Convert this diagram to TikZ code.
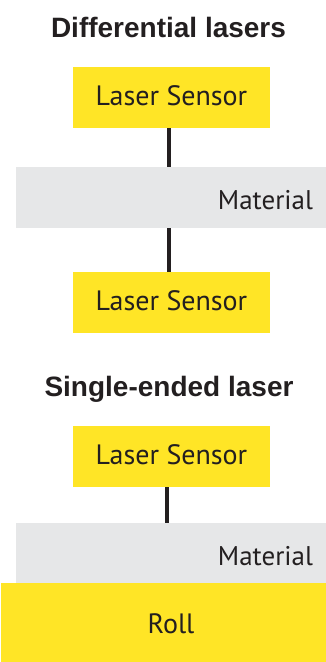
\documentclass[tikz,border=0pt]{standalone}
\usepackage{fontspec}
\setmainfont{Liberation Sans}
\newfontfamily\boxfont{PT Sans}
\definecolor{sensoryellow}{RGB}{255,229,38}
\definecolor{materialgray}{RGB}{230,231,232}
\definecolor{ink}{RGB}{35,31,32}

\begin{document}
\begin{tikzpicture}[x=1pt,y=-1pt,
  title/.style={font=\bfseries\fontsize{28}{32}\selectfont,text=ink,anchor=base,inner sep=0},
  sensor/.style={fill=sensoryellow,minimum width=197pt,minimum height=61pt,inner sep=0,
    text height=15pt,text depth=0pt,text=ink,font=\boxfont\fontsize{28}{32}\selectfont},
  material/.style={fill=materialgray,minimum width=310pt,minimum height=61pt,inner sep=0,
    text width=284pt,align=right,text height=24pt,text depth=0pt,
    text=ink,font=\boxfont\fontsize{27}{32}\selectfont},
  roll/.style={fill=sensoryellow,minimum width=325pt,minimum height=79pt,inner sep=0},
  link/.style={draw=ink,line width=4pt}]
\useasboundingbox (0,0) rectangle (326,662);

% differential pair: sensor above and below the web
\node[title] (difftitle) at (168.5,37) {Differential lasers};
\node[sensor] (topsensor) at (171.5,97.5) {Laser Sensor};
\node[material] (diffweb) at (171,197.5) {Material};
\node[sensor] (botsensor) at (171.5,302.5) {Laser Sensor};
\draw[link] ([xshift=-3pt]topsensor.south) -- ([xshift=-3pt]topsensor.south |- diffweb.north);
\draw[link] ([xshift=-3pt]botsensor.north |- diffweb.south) -- ([xshift=-3pt]botsensor.north);

% single sensor, web lying on the roll
\node[title] (singletitle) at (169,396) {Single-ended laser};
\node[sensor] (onesensor) at (171.5,456.5) {Laser Sensor};
\node[material,minimum height=60pt] (rollweb) at (171,553) {Material};
\node[roll,label={[xshift=7.5pt,text height=21pt,text depth=0pt,inner sep=0,text=ink,
  font=\boxfont\fontsize{28}{32}\selectfont]center:Roll}] (roll) at (163.5,622.5) {};
\draw[link] ([xshift=-5pt]onesensor.south) -- ([xshift=-5pt]onesensor.south |- rollweb.north);
\end{tikzpicture}
\end{document}
